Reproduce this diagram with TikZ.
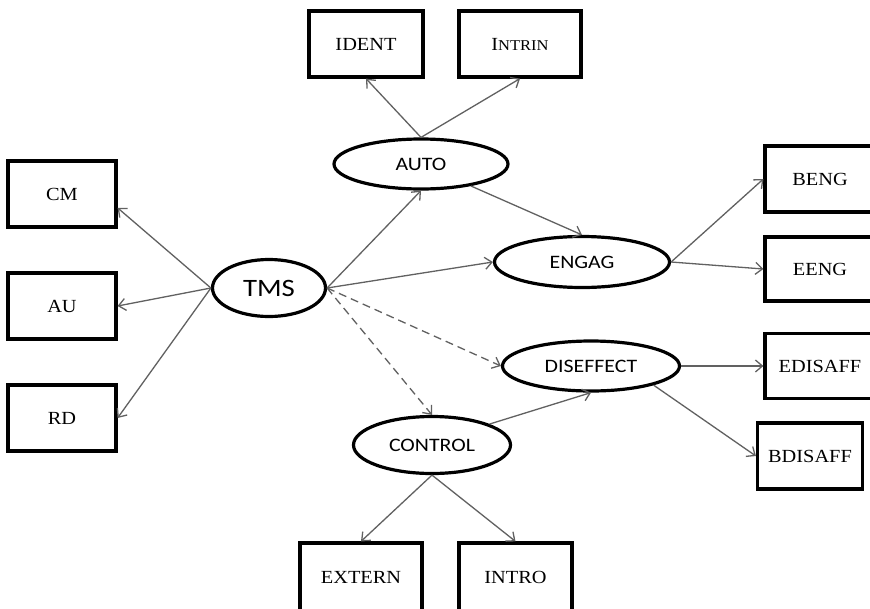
\documentclass[tikz,border=0pt]{standalone}
\usepackage{fontspec}
\setmainfont{Liberation Serif}
\newfontfamily\ellfont[FakeStretch=1.15]{Carlito}
\newfontfamily\boxfont[FakeStretch=1.1]{Liberation Serif}
\usetikzlibrary{shapes.geometric,arrows.meta}
\begin{document}
\begin{tikzpicture}[x=1pt,y=-1pt,
  boxnode/.style={draw,line width=3.2pt,rectangle,inner sep=0pt,
    font=\boxfont\fontsize{18.5}{18.5}\selectfont},
  ellnode/.style={draw,line width=3.2pt,ellipse,inner sep=0pt,
    font=\ellfont\fontsize{19}{19}\selectfont},
  conn/.style={draw=black!62,line width=1.3pt,-{Straight Barb[length=7pt,width=12pt]}},
  dconn/.style={conn,dash pattern=on 8pt off 5pt}]
\useasboundingbox[fill=white] (0,0) rectangle (870,608);

% boxes
\node[boxnode,minimum width=114pt,minimum height=66pt] (ident) at (366,44) {IDENT};
\node[boxnode,minimum width=122pt,minimum height=66pt] (intrin) at (520,44) {I{\fontsize{15}{15}\selectfont NTRIN}};
\node[boxnode,minimum width=108pt,minimum height=66pt] (cm) at (62,194) {CM};
\node[boxnode,minimum width=108pt,minimum height=66pt] (au) at (62,306) {AU};
\node[boxnode,minimum width=108pt,minimum height=66pt] (rd) at (62,418) {RD};
\node[boxnode,minimum width=110pt,minimum height=66pt] (beng) at (820,179) {BENG};
\node[boxnode,minimum width=110pt,minimum height=64pt] (eeng) at (820,269) {EENG};
\node[boxnode,minimum width=110pt,minimum height=65pt] (edisaff) at (820,366) {EDISAFF};
\node[boxnode,minimum width=105pt,minimum height=66pt] (bdisaff) at (810,456) {BDISAFF};
\node[boxnode,minimum width=122pt,minimum height=68pt] (extern) at (361,577) {EXTERN};
\node[boxnode,minimum width=113pt,minimum height=68pt] (intro) at (515.5,577) {INTRO};

% ellipses
\node[ellnode,minimum width=174pt,minimum height=50pt] (auto) at (421,164) {AUTO};
\node[ellnode,minimum width=113pt,minimum height=57pt,font=\ellfont\fontsize{25}{25}\selectfont] (tms) at (269,288) {TMS};
\node[ellnode,minimum width=175pt,minimum height=51pt] (engag) at (582,262) {ENGAG};
\node[ellnode,minimum width=177pt,minimum height=50pt] (diseffect) at (591,366) {DISEFFECT};
\node[ellnode,minimum width=157pt,minimum height=57pt] (control) at (432,445) {CONTROL};

% connectors
\draw[conn] (auto.north) -- (ident.south);
\draw[conn] (auto.north) -- (intrin.south);
\draw[conn] (tms.west) -- (cm.-14);
\draw[conn] (tms.west) -- (au.east);
\draw[conn] (tms.west) -- (rd.east);
\draw[conn] (tms.east) -- (auto.south);
\draw[conn] (tms.east) -- (engag.west);
\draw[dconn] (tms.east) -- (diseffect.west);
\draw[dconn] (tms.east) -- (control.north);
\draw[conn] (auto) -- (engag.north);
\draw[conn] (engag.east) -- (beng.west);
\draw[conn] (engag.east) -- (eeng.west);
\draw[conn] (diseffect.east) -- (edisaff.west);
\draw[conn] (diseffect.-17) -- (bdisaff.west);
\draw[conn] (control.20) -- (diseffect.south);
\draw[conn] (control.south) -- (extern.north);
\draw[conn] (control.south) -- (intro.north);
\end{tikzpicture}
\end{document}
